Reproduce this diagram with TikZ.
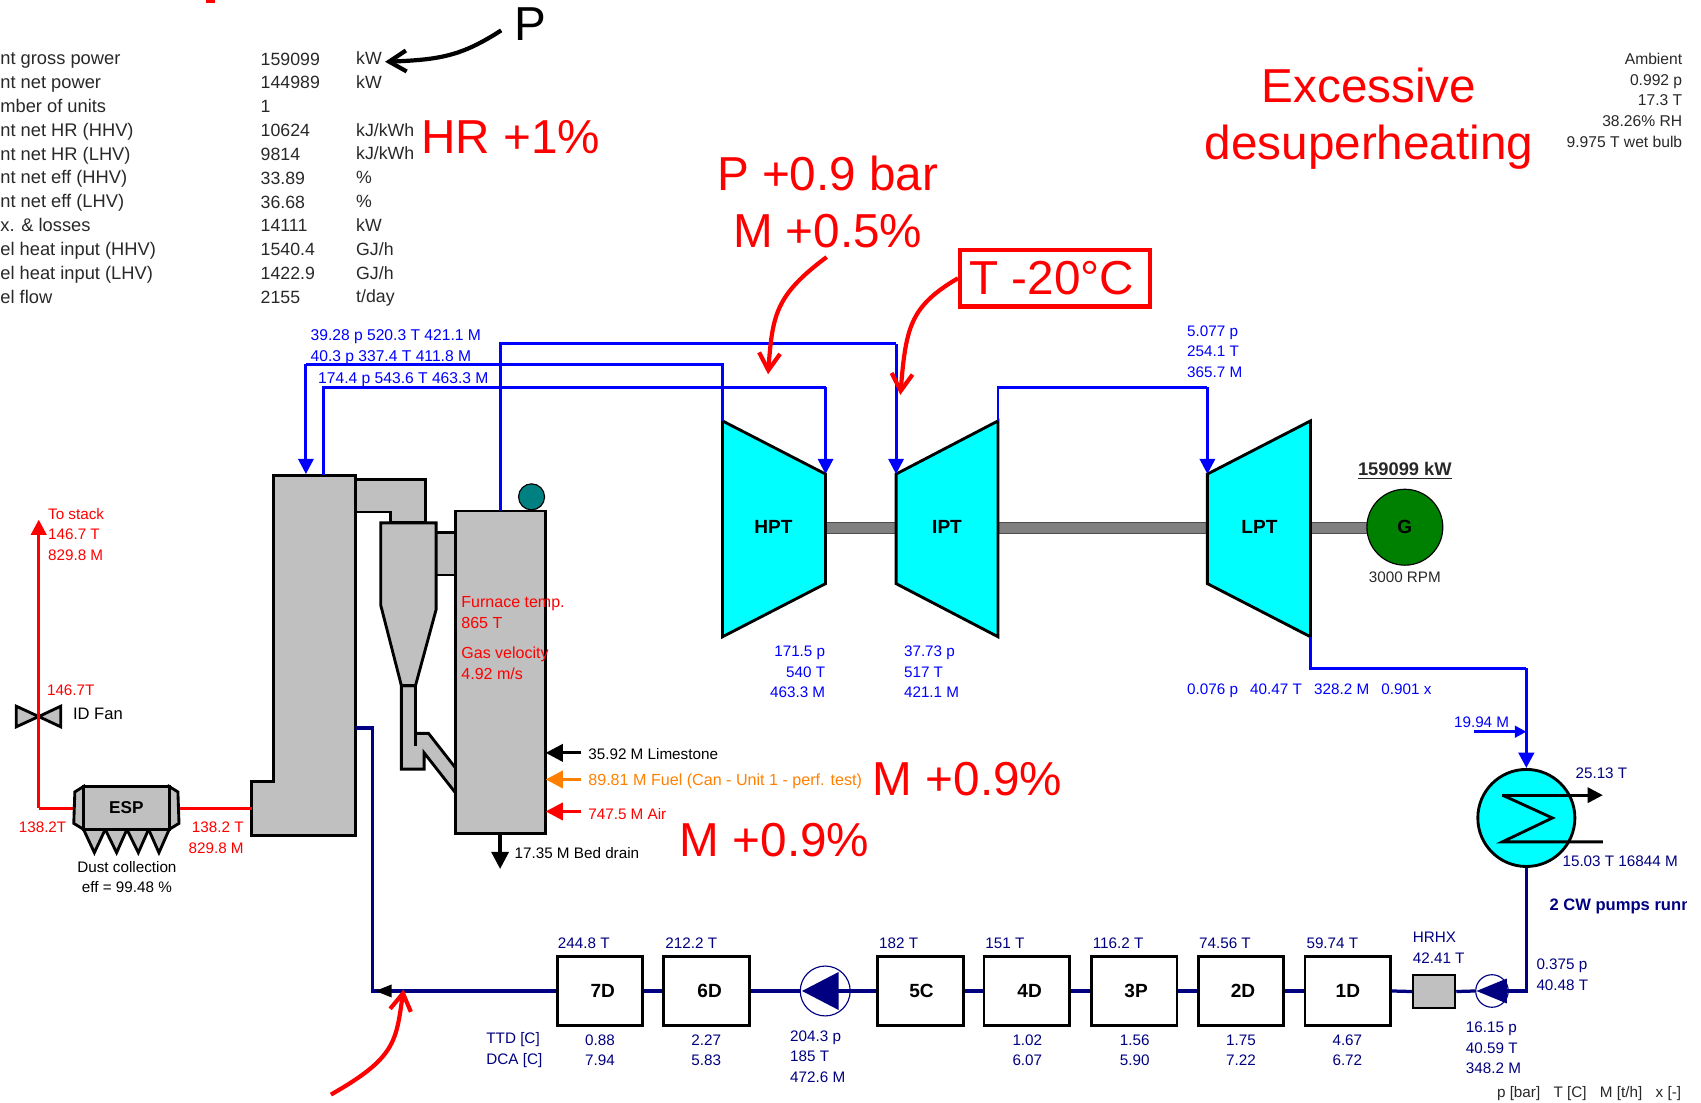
\documentclass[tikz,border=0pt]{standalone}
\usepackage{fontspec}
\setmainfont{Liberation Sans}
\usepackage{tikz}
\usetikzlibrary{arrows.meta, shapes.geometric}
\definecolor{steamblue}{RGB}{0, 0, 255}
\definecolor{feednavy}{RGB}{0, 0, 128}
\definecolor{gasred}{RGB}{255, 0, 0}
\definecolor{fuelorange}{RGB}{255, 128, 0}
\definecolor{equipgray}{RGB}{192, 192, 192}
\definecolor{shaftgray}{RGB}{128, 128, 128}
\definecolor{turbcyan}{RGB}{0, 255, 255}
\definecolor{drumteal}{RGB}{0, 128, 128}
\definecolor{gengreen}{RGB}{0, 128, 0}
\definecolor{textgray}{RGB}{40, 40, 40}

\begin{document}
\begin{tikzpicture}[x=0.02cm, y=-0.02cm, >={Triangle[length=8pt,width=8pt]},
    steam/.style={steamblue, line width=1.5pt},
    feed/.style={feednavy, line width=1.7pt},
    gas/.style={gasred, line width=1.7pt},
    equip/.style={draw=black, fill=equipgray, line width=1.5pt, line join=miter},
    turbine/.style={draw=black, fill=turbcyan, line width=1.5pt},
    shaft/.style={draw=black!70, fill=shaftgray, line width=0.3pt},
    inflow/.style={line width=1.7pt, -{Triangle[length=9pt,width=9pt]}},
    note/.style={-{Straight Barb[length=9pt,width=11pt]}, line width=2.2pt},
    heater/.style={draw=black, fill=white, line width=1.5pt, minimum width=1.58cm, minimum height=1.26cm, inner sep=0pt, font=\fontsize{10}{12}\selectfont\bfseries},
    pump/.style={draw=feednavy, circle, line width=0.6pt, inner sep=0pt},
    lab/.style={font=\fontsize{8}{10.8}\selectfont, inner sep=0pt, align=left, anchor=west},
    labc/.style={lab, align=center, anchor=center},
    labr/.style={lab, align=right, anchor=east},
    tbl/.style={font=\fontsize{9.3}{12.5}\selectfont, text=textgray, inner sep=0pt, align=left, anchor=west},
    big/.style={font=\fontsize{25}{30.2}\selectfont, text=gasred, inner sep=0pt, align=center},
    eqlab/.style={font=\fontsize{10}{12}\selectfont\bfseries, inner sep=0pt}]
    \useasboundingbox (0,0) rectangle (1568,1016);

    % summary table
    \node[tbl, font=\fontsize{9.6}{12.5}\selectfont] (tabnames) at (0,164.2) {nt gross power\\nt net power\\mber of units\\nt net HR (HHV)\\nt net HR (LHV)\\nt net eff (HHV)\\nt net eff (LHV)\\x. \& losses\\el heat input (HHV)\\el heat input (LHV)\\el flow};
    \node[tbl] (tabvalues) at (240,164.2) {159099\\144989\\1\\10624\\9814\\33.89\\36.68\\14111\\1540.4\\1422.9\\2155};
    \node[tbl] (tabunits) at (328,165.2) {kW\\kW\\\strut\\kJ/kWh\\kJ/kWh\\\%\\\%\\kW\\GJ/h\\GJ/h\\t/day};

    % ambient
    \node[labr, text=textgray, font=\fontsize{8.2}{10.8}\selectfont] (ambient) at (1551,92.5) {Ambient\\0.992 p\\17.3 T\\38.26\% RH\\9.975 T wet bulb};

    % boiler
    \draw[equip] (328,442) -- (392,442) -- (392,482) -- (360,482) -- (360,472) -- (328,472) -- cycle;
    \draw[equip] (401,491) -- (420,491) -- (420,530) -- (401,530) -- cycle;
    \draw[equip] (252,438) -- (328,438) -- (328,770) -- (232,770) -- (232,720) -- (252,720) -- cycle;
    \draw[equip] (370,632) -- (383,632) -- (383,676) -- (395,676) -- (420,708) -- (420,731) -- (391,694) -- (391,709) -- (370,709) -- cycle;
    \draw[black, line width=1.5pt] (383,676) -- (383,688);
    \draw[equip] (351,482) -- (402,482) -- (402,562) -- (383,632) -- (370,632) -- (351,558) -- cycle;
    \draw[draw=black, fill=drumteal, line width=0.6pt] (490,458) circle (12);
    \draw[equip] (420,471) rectangle (503,768);
    \coordinate (bpcold) at (282,437);
    \coordinate (bphot) at (298,438);
    \coordinate (bpfeed) at (328,671);
    \coordinate (bpgas) at (232,745);
    \coordinate (frtop) at (461,471);
    \coordinate (frbot) at (461,768);
    \coordinate (frstone) at (503,694);
    \coordinate (frfuel) at (503,718.5);
    \coordinate (frair) at (503,748);
    \coordinate (stonein) at (536,694);
    \coordinate (fuelin) at (536,718.5);
    \coordinate (airin) at (536,748);
    \coordinate (drainout) at (461,801);
    \draw[inflow] (stonein) -- (frstone);
    \draw[inflow, fuelorange] (fuelin) -- (frfuel);
    \draw[inflow, gasred] (airin) -- (frair);
    \draw[inflow] (frbot) -- (drainout);
    \node[lab, text=gasred, font=\fontsize{8.4}{10.8}\selectfont] (furnacelab) at (425,564.5) {Furnace temp.\\865 T};
    \node[lab, text=gasred, font=\fontsize{8.4}{10.8}\selectfont] (velolab) at (425,611.5) {Gas velocity\\4.92 m/s};
    \node[lab] (stonelab) at (542,695) {35.92 M Limestone};
    \node[lab, text=fuelorange, font=\fontsize{8.45}{10.8}\selectfont] (fuellab) at (542,720.5) {89.81 M Fuel (Can - Unit 1 - perf. test)};
    \node[lab, text=gasred] (airlab) at (542,750) {747.5 M Air};
    \node[lab] (drainlab) at (474,786) {17.35 M Bed drain};

    % ESP and fan
    \coordinate (espleft) at (68,745);
    \coordinate (espright) at (165,745);
    \coordinate (fancross) at (35.7,660.5);
    \coordinate (stackcorner) at (35.7,745);
    \coordinate (stacktop) at (35.7,479);
    \draw[gas] (bpgas) -- (espright);
    \draw[gas] (espleft) -- (stackcorner);
    \draw[gas, ->] (stackcorner) -- (stacktop);
    \draw[equip] (77,725) -- (69,730) -- (68,759) -- (77,764.5) -- cycle;
    \draw[equip] (156,725) -- (164,730) -- (165,759) -- (156,764.5) -- cycle;
    \draw[equip] (77,764.5) -- (87,786) -- (97,764.5) -- cycle;
    \draw[equip] (97,764.5) -- (107.5,786) -- (117,764.5) -- cycle;
    \draw[equip] (117,764.5) -- (127.5,786) -- (137,764.5) -- cycle;
    \draw[equip] (137,764.5) -- (146.5,786) -- (156,764.5) -- cycle;
    \node[equip, minimum width=1.58cm, minimum height=0.79cm, inner sep=0pt, font=\fontsize{9}{11}\selectfont\bfseries] (esp) at (116.5,744.8) {ESP};
    \draw[equip] (fancross) -- (15,651) -- (15,670) -- cycle;
    \draw[equip] (fancross) -- (56,651) -- (56,670) -- cycle;
    \draw[gas] (35.7,651) -- (35.7,670);
    \node[lab, text=gasred] (stacklab) at (44,492.5) {To stack\\146.7 T\\829.8 M};
    \node[lab, text=gasred] (fanlab) at (43,636) {146.7T};
    \node[lab, font=\fontsize{8.7}{10.8}\selectfont] (fanname) at (67,658.5) {ID Fan};
    \node[lab, text=gasred] (esplabl) at (17,763) {138.2T};
    \node[labr, text=gasred] (esplabr) at (225,772.5) {138.2 T\\829.8 M};
    \node[labc] (dustlab) at (117,808.5) {Dust collection\\eff = 99.48 \%};

    % turbines
    \draw[shaft] (761,481) rectangle (826,492);
    \draw[shaft] (920,481) rectangle (1113,492);
    \draw[shaft] (1208,481) rectangle (1262,492);
    \draw[turbine] (666,388) -- (761,437) -- (761,538) -- (666,587) -- cycle;
    \draw[turbine] (826,437) -- (920,388) -- (920,587) -- (826,538) -- cycle;
    \draw[turbine] (1113,437) -- (1208,388) -- (1208,587) -- (1113,538) -- cycle;
    \node[eqlab] (hpt) at (713,486) {HPT};
    \node[eqlab] (ipt) at (873,486) {IPT};
    \node[eqlab] (lpt) at (1161,486) {LPT};
    \node[draw=black, fill=gengreen, circle, minimum size=1.4cm, inner sep=0pt, line width=0.6pt, font=\fontsize{10}{12}\selectfont\bfseries] (gen) at (1295,486) {G};
    \node[labc, font=\fontsize{9.6}{11}\selectfont\bfseries, text=textgray] (genpower) at (1295,434) {\underline{159099 kW}};
    \node[labc, text=textgray] (genspeed) at (1295,532) {3000 RPM};

    % steam lines
    \coordinate (hpin) at (761,437);
    \coordinate (hpinc) at (761,357);
    \coordinate (hpout) at (666,388);
    \coordinate (hpoutc) at (666,336);
    \coordinate (coldc) at (282,336);
    \coordinate (hotc) at (298,357);
    \coordinate (ipin) at (826,437);
    \coordinate (ipinc) at (826,317);
    \coordinate (rhc) at (461,317);
    \coordinate (ipout) at (920,388);
    \coordinate (ipoutc) at (920,357);
    \coordinate (lpin) at (1113,437);
    \coordinate (lpinc) at (1113,357);
    \coordinate (lpout) at (1208,587);
    \coordinate (lpoutc) at (1208,616);
    \coordinate (cdinc) at (1407,616);
    \draw[steam] (bphot) -- (hotc) -- (hpinc);
    \draw[steam, ->] (hpinc) -- (hpin);
    \draw[steam] (hpout) -- (hpoutc) -- (coldc);
    \draw[steam, ->] (coldc) -- (bpcold);
    \draw[steam] (frtop) -- (rhc) -- (ipinc);
    \draw[steam, ->] (ipinc) -- (ipin);
    \draw[steam] (ipout) -- (ipoutc) -- (lpinc);
    \draw[steam, ->] (lpinc) -- (lpin);
    \node[lab, text=steamblue, font=\fontsize{8.2}{10.8}\selectfont] (rhlab) at (286,310) {39.28 p 520.3 T 421.1 M};
    \node[lab, text=steamblue, font=\fontsize{8.2}{10.8}\selectfont] (coldlab) at (286,330) {40.3 p 337.4 T 411.8 M};
    \node[lab, text=steamblue, font=\fontsize{8.2}{10.8}\selectfont] (hotlab) at (293,350) {174.4 p 543.6 T 463.3 M};
    \node[lab, text=steamblue] (lpinlab) at (1094,324) {5.077 p\\254.1 T\\365.7 M};
    \node[labr, text=steamblue] (hpinlab) at (761,619.5) {171.5 p\\540 T\\463.3 M};
    \node[lab, text=steamblue] (ipinlab) at (833,619.5) {37.73 p\\517 T\\421.1 M};
    \node[lab, text=steamblue] (lpoutlab) at (1094,637) {0.076 p\hspace{6.4pt}40.47 T\hspace{6.4pt}328.2 M\hspace{6.4pt}0.901 x};
    \node[lab, text=steamblue] (drainslab) at (1340,666) {19.94 M};

    % condenser
    \node[draw=black, fill=turbcyan, circle, minimum size=1.79cm, inner sep=0pt, line width=1.5pt] (cond) at (1407,754) {};
    \coordinate (cwout) at (1477.5,733);
    \coordinate (cwin) at (1477.5,776);
    \coordinate (drainsin) at (1359,674.5);
    \coordinate (drainsend) at (1407,674.5);
    \draw[black, line width=1.5pt] (cwin) -- (1385,776) -- (1431,754) -- (1385,733);
    \draw[black, line width=1.5pt, ->] (1385,733) -- (cwout);
    \draw[steam, line width=1.8pt] (lpout) -- (lpoutc) -- (cdinc);
    \draw[steam, line width=1.8pt, ->] (cdinc) -- (cond.north);
    \draw[steam, -{Triangle[length=6pt,width=6pt]}] (drainsin) -- (drainsend);
    \node[lab, text=feednavy] (cwoutlab) at (1452,713) {25.13 T};
    \node[lab, text=feednavy] (cwinlab) at (1440,794) {15.03 T 16844 M};
    \begin{scope}
        \clip (0,0) rectangle (1555,1016);
        \node[lab, text=feednavy, font=\fontsize{8.7}{10.8}\selectfont\bfseries] (cwlab) at (1428,836) {2 CW pumps runn};
    \end{scope}

    % feedwater train
    \node[heater] (h7) at (553,913.5) {\hspace{3pt}7D};
    \node[heater] (h6) at (651.5,913.5) {\hspace{3pt}6D};
    \node[heater] (h5) at (848.5,913.5) {\hspace{1pt}5C};
    \node[heater] (h4) at (946.5,913.5) {\hspace{3pt}4D};
    \node[heater] (h3) at (1045.5,913.5) {\hspace{2pt}3P};
    \node[heater] (h2) at (1144,913.5) {\hspace{2pt}2D};
    \node[heater] (h1) at (1242.5,913.5) {1D};
    \node[draw=black, fill=equipgray, minimum width=0.78cm, minimum height=0.62cm, inner sep=0pt, line width=1pt] (hrhx) at (1322,914) {};
    \node[pump, minimum size=0.92cm] (fwpump) at (760.7,913.5) {};
    \node[pump, minimum size=0.6cm] (cpump) at (1375.3,913.5) {};
    \coordinate (pumpcorner) at (1407,913.5);
    \coordinate (bpcorner) at (343.5,671);
    \coordinate (trainend) at (343.5,913.5);
    \coordinate (arrowtip) at (346,913.5);
    \draw[feed] (cond.south) -- (pumpcorner) -- (cpump.center);
    \draw[feed] (cpump.west) -- (hrhx.east);
    \draw[feed] (hrhx.west) -- (h1.east);
    \draw[feed] (h1.west) -- (h2.east);
    \draw[feed] (h2.west) -- (h3.east);
    \draw[feed] (h3.west) -- (h4.east);
    \draw[feed] (h4.west) -- (h5.east);
    \draw[feed] (h5.west) -- (fwpump.center);
    \draw[feed] (fwpump.west) -- (h6.east);
    \draw[feed] (h6.west) -- (h7.east);
    \draw[feed] (h7.west) -- (trainend) -- (bpcorner) -- (bpfeed);
    \fill[feednavy] (739.3,913.5) -- (773,896) -- (773,931) -- cycle;
    \fill[feednavy] (1361,913.5) -- (1389,902) -- (1389,925) -- cycle;
    \fill[black] (arrowtip) -- (361,907.5) -- (361,919.5) -- cycle;
    \node[lab, text=feednavy] (t7) at (514,869.5) {244.8 T};
    \node[lab, text=feednavy] (t6) at (613,869.5) {212.2 T};
    \node[lab, text=feednavy] (t5) at (810,869.5) {182 T};
    \node[lab, text=feednavy] (t4) at (908,869.5) {151 T};
    \node[lab, text=feednavy] (t3) at (1007,869.5) {116.2 T};
    \node[lab, text=feednavy] (t2) at (1105,869.5) {74.56 T};
    \node[lab, text=feednavy] (t1) at (1204,869.5) {59.74 T};
    \node[lab, text=feednavy] (ttdlab) at (448,968) {TTD [C]\\DCA [C]};
    \node[labc, text=feednavy] (d7) at (553,968) {0.88\\7.94};
    \node[labc, text=feednavy] (d6) at (651,968) {2.27\\5.83};
    \node[labc, text=feednavy] (d4) at (947,968) {1.02\\6.07};
    \node[labc, text=feednavy] (d3) at (1046,968) {1.56\\5.90};
    \node[labc, text=feednavy] (d2) at (1144,968) {1.75\\7.22};
    \node[labc, text=feednavy] (d1) at (1242,968) {4.67\\6.72};
    \node[lab, text=feednavy] (fwlab) at (728,974) {204.3 p\\185 T\\472.6 M};
    \node[lab, text=feednavy] (hrhxlab) at (1302,873.5) {HRHX\\42.41 T};
    \node[lab, text=feednavy] (cpdlab) at (1416,898.5) {0.375 p\\40.48 T};
    \node[lab, text=feednavy] (cplab) at (1351,966) {16.15 p\\40.59 T\\348.2 M};
    \node[labr, text=textgray] (unitlab) at (1550,1008) {p [bar]\hspace{7pt}T [C]\hspace{7pt}M [t/h]\hspace{7pt}x [-]};

    % annotations
    \fill[gasred] (190,0) rectangle (198,3);
    \node[big, text=black] (plab) at (489,22) {P};
    \node[big] (hrlab) at (471,126) {HR +1\%};
    \node[big] (hplab) at (763,186) {P +0.9 bar\\M +0.5\%};
    \node[big, draw=gasred, line width=2.3pt, minimum width=3.5cm, minimum height=1.04cm] (rhtemp) at (972.5,256.5) {T -20°C\kern3.4pt};
    \node[big] (desuplab) at (1262,109.5) {Excessive\\desuperheating};
    \node[big] (fuelnote) at (892,718) {M +0.9\%};
    \node[big] (airnote) at (714,774) {M +0.9\%};
    \coordinate (ptail) at (462,28);
    \coordinate (ptip) at (355,57);
    \coordinate (hptail) at (762,237);
    \coordinate (hptip) at (708,345);
    \coordinate (rhtip) at (830,364);
    \coordinate (fwtail) at (305,1009);
    \coordinate (fwtip) at (372,912);
    \draw[note, black] (ptail) .. controls (425,52) and (405,55) .. (ptip);
    \draw[note, gasred] (hptail) .. controls (715,272) and (712,290) .. (hptip);
    \draw[note, gasred] (rhtemp.west) .. controls (840,282) and (835,300) .. (rhtip);
    \draw[note, gasred] (fwtail) .. controls (365,975) and (365,960) .. (fwtip);
\end{tikzpicture}
\end{document}
